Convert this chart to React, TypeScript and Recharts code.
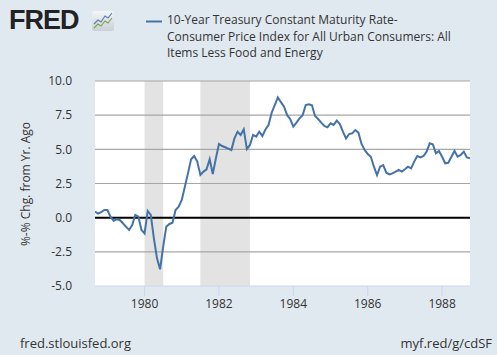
import React from 'react';
import { LineChart, Line, XAxis, YAxis, ReferenceLine, ReferenceArea } from 'recharts';

// Monthly values starting Sep 1978
const startYear = 1978;
const startMonth = 9;
const spreadValues: number[] = [
  0.44, 0.3, 0.4, 0.56, 0.56, 0.07, -0.22, -0.12, -0.17, -0.41,
  -0.66, -0.9, -0.54, 0.2, 0.07, -0.9, -1.15, 0.49, 0.2, -1.51,
  -2.98, -3.78, -2.12, -0.66, -0.46, -0.37, 0.56, 0.8, 1.29, 2.27,
  3.24, 4.27, 4.51, 4.1, 3.12, 3.37, 3.54, 4.27, 3.2, 4.34,
  5.39, 5.24, 5.15, 5.05, 4.95, 5.8, 6.29, 6.05, 6.46, 5.02,
  5.32, 6.05, 5.93, 6.29, 5.98, 6.45, 6.78, 7.68, 8.24, 8.8,
  8.45, 8.12, 7.5, 7.2, 6.66, 6.95, 7.27, 7.5, 8.24, 8.29,
  8.22, 7.44, 7.22, 6.95, 6.71, 6.61, 6.9, 6.78, 7.1, 6.85,
  6.29, 5.8, 6.12, 6.17, 6.41, 6.22, 5.39, 4.95, 4.66, 4.46,
  3.73, 3.12, 3.73, 3.85, 3.29, 3.17, 3.24, 3.37, 3.49, 3.37,
  3.54, 3.73, 3.61, 4.1, 4.51, 4.41, 4.51, 4.83, 5.44, 5.37,
  4.71, 4.88, 4.46, 3.98, 4.02, 4.46, 4.88, 4.46, 4.59, 4.83,
  4.41, 4.34,
];

const xTicks = [1980, 1982, 1984, 1986, 1988];
const yTicks = [-5, -2.5, 0, 2.5, 5, 7.5, 10];
const gridValues = [10, 7.5, 5, 2.5, -2.5];
const recessions: [number, number][] = [
  [1980.0, 1980.5],
  [1981.5, 1982.833],
];
const legendLines = [
  '10-Year Treasury Constant Maturity Rate-',
  'Consumer Price Index for All Urban Consumers: All',
  'Items Less Food and Energy',
];

const data = spreadValues.map((v, i) => ({
  t: startYear + (startMonth - 1 + i) / 12,
  v,
}));
const xMin = data[0].t;
const xMax = data[data.length - 1].t;

const FONT = '"Open Sans", "DejaVu Sans", sans-serif';
const TEXT = '#333333';
const GRID = '#a6a6a6';

export default function App() {
  return (
    <div
      style={{
        position: 'absolute',
        left: 0,
        top: 0,
        width: 497,
        height: 355,
        background: '#e1e9f0',
        fontFamily: FONT,
        overflow: 'hidden',
      }}
    >
      {/* plot background */}
      <div style={{ position: 'absolute', left: 95, top: 81, width: 375, height: 205, background: '#ffffff' }} />

      {/* FRED logo */}
      <div
        style={{
          position: 'absolute',
          left: 9,
          top: 3,
          fontFamily: '"Liberation Sans", Arial, sans-serif',
          fontWeight: 900,
          fontSize: 27,
          letterSpacing: -1,
          color: '#222',
          lineHeight: '34px',
        }}
      >
        FRED
      </div>
      <svg style={{ position: 'absolute', left: 92, top: 11 }} width={22} height={20}>
        <defs>
          <linearGradient id="lg" x1="0" y1="0" x2="0" y2="1">
            <stop offset="0" stopColor="#f4f6f8" />
            <stop offset="1" stopColor="#c9d0d6" />
          </linearGradient>
        </defs>
        <rect x={0} y={0} width={22} height={20} rx={2} fill="url(#lg)" />
        <polyline points="2,13 6,9 9,11 13,5 16,7 20,2" fill="none" stroke="#5a7fb0" strokeWidth={1.2} />
        <polyline points="2,17 6,13 9,15 13,10 16,12 20,7" fill="none" stroke="#7aa552" strokeWidth={1.2} />
      </svg>

      {/* Legend */}
      <svg style={{ position: 'absolute', left: 146, top: 20 }} width={16} height={3}>
        <line x1={0} y1={1.5} x2={16} y2={1.5} stroke="#4572a7" strokeWidth={2} />
      </svg>
      <div
        style={{
          position: 'absolute',
          left: 167,
          top: 12,
          fontSize: 12,
          lineHeight: '16.6px',
          color: TEXT,
          whiteSpace: 'nowrap',
        }}
      >
        {legendLines.map((l, i) => (
          <div key={i}>{l}</div>
        ))}
      </div>

      {/* Y axis title */}
      <div
        style={{
          position: 'absolute',
          left: 25,
          top: 183.5,
          transform: 'translate(-50%, -50%) rotate(-90deg)',
          fontSize: 12,
          color: TEXT,
          whiteSpace: 'nowrap',
        }}
      >
        %-% Chg. from Yr. Ago
      </div>

      <div style={{ position: 'absolute', left: 0, top: 0 }}>
        <LineChart
          width={497}
          height={355}
          data={data}
          margin={{ top: 81, right: 27, bottom: 39, left: 35 }}
        >
          <XAxis
            dataKey="t"
            type="number"
            domain={[xMin, xMax]}
            ticks={xTicks}
            allowDataOverflow
            tickFormatter={(v: number) => String(Math.round(v))}
            stroke="#ccd6eb"
            tickSize={10}
            tickMargin={3}
            height={30}
            tick={{ fill: TEXT, fontSize: 12, fontFamily: FONT }}
            axisLine={{ stroke: '#ccd6eb' }}
            tickLine={{ stroke: '#ccd6eb' }}
          />
          <YAxis
            type="number"
            domain={[-5, 10]}
            ticks={yTicks}
            width={60}
            axisLine={false}
            tickLine={false}
            tickSize={6}
            tickMargin={17}
            tickFormatter={(v: number) => v.toFixed(1)}
            tick={{ fill: TEXT, fontSize: 12, fontFamily: FONT }}
          />
          {recessions.map(([a, b], i) => (
            <ReferenceArea key={'r' + i} x1={a} x2={b} y1={-5} y2={10} fill="#e3e3e3" fillOpacity={1} stroke="none" />
          ))}
          {gridValues.map((g) => (
            <ReferenceLine key={'g' + g} y={g} stroke={GRID} strokeWidth={1.2} />
          ))}
          <ReferenceLine y={0} stroke="#000000" strokeWidth={2} />
          <Line
            type="linear"
            dataKey="v"
            stroke="#4572a7"
            strokeWidth={2}
            dot={false}
            isAnimationActive={false}
          />
        </LineChart>
      </div>

      {/* Footer */}
      <div style={{ position: 'absolute', left: 20, top: 334, fontSize: 13, color: TEXT }}>
        fred.stlouisfed.org
      </div>
      <div style={{ position: 'absolute', right: 5, top: 334, fontSize: 13, color: TEXT }}>
        myf.red/g/cdSF
      </div>
    </div>
  );
}
